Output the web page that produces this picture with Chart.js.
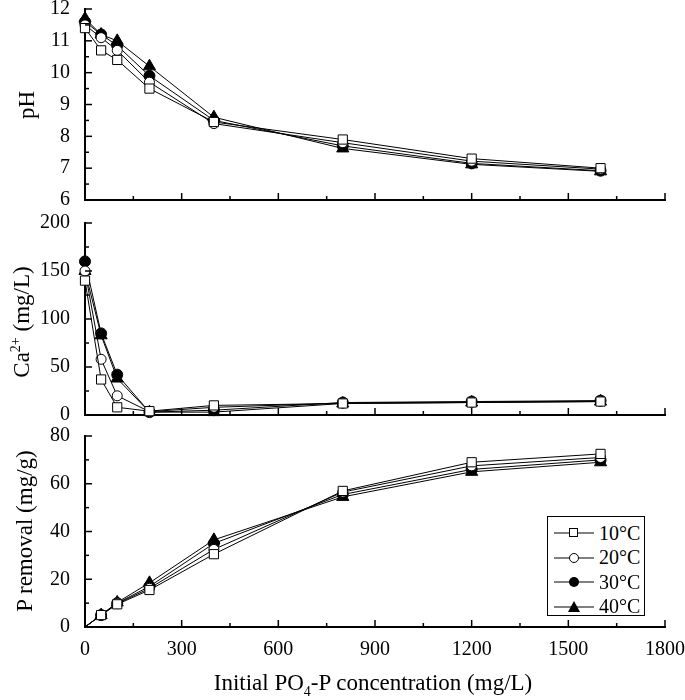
<!DOCTYPE html>
<html>
<head>
<meta charset="utf-8">
<script src="https://cdn.jsdelivr.net/npm/chart.js@4.4.1/dist/chart.umd.min.js"></script>
<style>
  body { margin: 0; background: #fff; }
  #wrap { position: relative; width: 685px; height: 700px; overflow: hidden; font-family: 'Liberation Serif', 'Times New Roman', serif; color: #000; }
  #wrap canvas { position: absolute; left: 0; }
  .ytitle { position: absolute; font-size: 23px; white-space: nowrap; transform: translate(-50%, -50%) rotate(-90deg); }
  .xtitle { position: absolute; font-size: 23px; white-space: nowrap; transform: translate(-50%, -50%); }
  sup, sub { font-size: 14px; line-height: 0; }
  #legend { position: absolute; left: 547px; top: 516px; width: 96px; height: 98px; border: 1px solid #000; background: #fff; }
  #legend .row { position: absolute; left: 6px; height: 24px; display: flex; align-items: center; font-size: 20px; }
  #legend svg { margin-right: 5px; }
</style>
</head>
<body>
<div id="wrap">
  <canvas id="ph" width="685" height="205" style="top:0"></canvas>
  <canvas id="ca" width="685" height="206" style="top:214px"></canvas>
  <canvas id="pr" width="685" height="273" style="top:427px"></canvas>
  <div class="ytitle" style="left:27px; top:105px">pH</div>
  <div class="ytitle" style="left:22px; top:322px">Ca<sup>2+</sup> (mg/L)</div>
  <div class="ytitle" style="left:25px; top:531px">P removal (mg/g)</div>
  <div class="xtitle" style="left:373px; top:683px">Initial PO<sub>4</sub>-P concentration (mg/L)</div>
  <div id="legend"></div>
</div>
<script>
// initial PO4-P concentration (mg/L)
const conc = [0, 50, 100, 200, 400, 800, 1200, 1600];
const temps = ['10°C', '20°C', '30°C', '40°C'];

// pH
const ph10 = [11.4, 10.7, 10.4, 9.5, 8.45, 7.9, 7.3, 7.0];
const ph20 = [11.5, 11.1, 10.7, 9.7, 8.4, 7.8, 7.22, 6.97];
const ph30 = [11.6, 11.2, 10.85, 9.9, 8.5, 7.7, 7.15, 6.92];
const ph40 = [11.7, 11.2, 11.0, 10.2, 8.6, 7.62, 7.12, 6.9];

// Ca2+ (mg/L)
const ca10 = [140, 37, 8, 4, 10, 12, 13, 14];
const ca20 = [150, 58, 20, 3.5, 8, 12.5, 13.5, 14.5];
const ca30 = [160, 85, 42, 3, 5, 13, 14, 15];
const ca40 = [150, 83, 38, 3, 3, 12, 13, 14];

// P removal (mg/g)
const pr10 = [0, 5, 9.5, 15.5, 30.5, 57, 69, 72.5];
const pr20 = [0, 5, 9.8, 16.2, 32.5, 56.5, 67.5, 71];
const pr30 = [0, 5, 10, 17, 35, 55.5, 66, 70];
const pr40 = [0, 5, 10.3, 18.5, 36.5, 54.5, 65, 69];

const xTicks = [0, 300, 600, 900, 1200, 1500, 1800];

// marker look per temperature
const marks = [
  { pointStyle: 'rect', pointRadius: 6.5, pointBackgroundColor: '#fff' },
  { pointStyle: 'circle', pointRadius: 5, pointBackgroundColor: '#fff' },
  { pointStyle: 'circle', pointRadius: 5.5, pointBackgroundColor: '#000' },
  { pointStyle: 'triangle', pointRadius: 7, pointBackgroundColor: '#000' }
];

const FONT = { family: "'Liberation Serif', 'Times New Roman', serif", size: 20 };

// ticks drawn inside the plot, major + minor (midpoints)
const inwardTicks = {
  id: 'inwardTicks',
  afterDraw(chart) {
    const { ctx, chartArea: a, scales } = chart;
    ctx.save();
    ctx.strokeStyle = '#000';
    ctx.lineWidth = 1.5;
    ['x', 'y'].forEach(id => {
      const s = scales[id];
      const vals = s.ticks.map(t => t.value);
      const all = [];
      vals.forEach((v, i) => {
        all.push([v, 7]);
        if (i < vals.length - 1) all.push([(v + vals[i + 1]) / 2, 4]);
      });
      all.forEach(([v, len]) => {
        const p = s.getPixelForValue(v);
        ctx.beginPath();
        if (id === 'x') { ctx.moveTo(p, a.bottom); ctx.lineTo(p, a.bottom - len); }
        else { ctx.moveTo(a.left, p); ctx.lineTo(a.left + len, p); }
        ctx.stroke();
      });
    });
    ctx.restore();
  }
};

// no label overflow padding: plot area is set by layout padding only
const noPad = s => { s.paddingTop = 0; s.paddingBottom = 0; s.paddingLeft = 0; s.paddingRight = 0; };

function makeChart(id, series, yMin, yMax, yStep, showX, xHeight, hideFirst) {
  return new Chart(document.getElementById(id), {
    type: 'scatter',
    data: {
      datasets: series.map((vals, i) => Object.assign({
        label: temps[i],
        data: conc.map((c, j) => ({ x: c, y: vals[j] })),
        showLine: true,
        borderColor: '#000',
        borderWidth: 1,
        pointBorderColor: '#000',
        pointBorderWidth: 1,
        clip: false
      }, marks[i], {
        pointRadius: ctx => (hideFirst && ctx.dataIndex === 0) ? 0 : marks[i].pointRadius
      }))
    },
    options: {
      responsive: false,
      maintainAspectRatio: false,
      animation: false,
      layout: { autoPadding: false, padding: { top: 9, right: 20, left: 0, bottom: 0 } },
      plugins: { legend: { display: false }, tooltip: { enabled: false } },
      scales: {
        x: {
          type: 'linear', min: 0, max: 1800,
          afterBuildTicks: s => { s.ticks = xTicks.map(v => ({ value: v })); },
          afterFit: s => { s.height = xHeight; noPad(s); },
          grid: { display: false },
          border: { display: true, color: '#000', width: 2 },
          ticks: { display: showX, color: '#000', font: FONT, padding: 3, callback: v => String(v) }
        },
        y: {
          min: yMin, max: yMax,
          ticks: { stepSize: yStep, color: '#000', font: FONT, padding: 7 },
          afterFit: s => { s.width = 85; noPad(s); },
          grid: { display: false },
          border: { display: true, color: '#000', width: 2 }
        }
      }
    },
    plugins: [inwardTicks]
  });
}

// put the plot area of a chart at the wanted page rows
function place(chart, top, bottom) {
  const a = chart.chartArea;
  const h = chart.height + (bottom - top) - (a.bottom - a.top);
  chart.resize(685, Math.round(h));
  chart.canvas.style.top = (top - chart.chartArea.top) + 'px';
}

const c1 = makeChart('ph', [ph10, ph20, ph30, ph40], 6, 12, 1, false, 5, false);
const c2 = makeChart('ca', [ca10, ca20, ca30, ca40], 0, 200, 50, false, 5, false);
const c3 = makeChart('pr', [pr10, pr20, pr30, pr40], 0, 80, 20, true, 73, true);
place(c1, 9, 200);
place(c2, 223, 415);
place(c3, 436, 627);

// legend: line - marker - line, then label
const legend = document.getElementById('legend');
const symbols = [
  '<rect x="15.5" y="7.5" width="8" height="8" fill="#fff" stroke="#000"/>',
  '<circle cx="20" cy="12" r="4.5" fill="#fff" stroke="#000"/>',
  '<circle cx="20" cy="12" r="5" fill="#000"/>',
  '<polygon points="20,6 26,17 14,17" fill="#000"/>'
];
temps.forEach((t, i) => {
  const row = document.createElement('div');
  row.className = 'row';
  row.style.top = (4 + i * 24.5) + 'px';
  row.innerHTML = '<svg width="40" height="24"><line x1="0" y1="12" x2="40" y2="12" stroke="#000" stroke-width="1"/>' +
    symbols[i] + '</svg><span>' + t + '</span>';
  legend.appendChild(row);
});
</script>
</body>
</html>
